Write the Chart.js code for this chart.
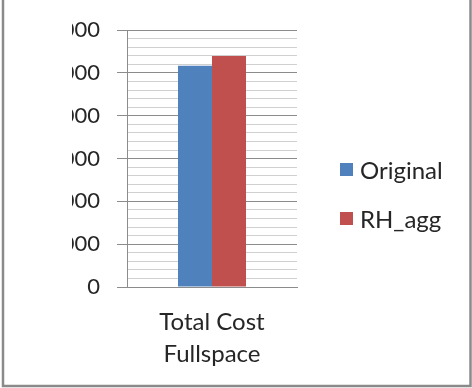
<!DOCTYPE html>
<html>
<head>
<meta charset="utf-8">
<script src="https://cdn.jsdelivr.net/npm/chart.js@4/dist/chart.umd.min.js"></script>
<style>
  html, body { margin: 0; padding: 0; background: #fff; }
  #wrap { position: relative; width: 472px; height: 388px; overflow: hidden; }
  #c { position: absolute; left: 0; top: 0; }
  #legend { position: absolute; left: 340px; top: 0; font-family: Lato, "Open Sans", sans-serif; font-size: 24px; color: #262626; }
  .item { position: absolute; left: 0; display: flex; align-items: center; white-space: nowrap; }
  .box { width: 13px; height: 13px; margin-right: 7px; }
</style>
</head>
<body>
<div id="wrap">
  <canvas id="c" width="472" height="388"></canvas>
  <div id="legend"></div>
</div>
<script>
// Cost comparison data
const categories = [['Total Cost', 'Fullspace']];
const seriesNames = ['Original', 'RH_agg'];
const originalValues = [5170];
const rhAggValues = [5400];
const seriesColors = ['#4F81BD', '#C0504D'];

const yMin = 0;
const yMax = 6000;
const minorStep = 200;
const majorStep = 1000;

const textColor = '#262626';
const majorGrid = '#8c8c8c';
const minorGrid = '#d0d0d0';

// Clip the drawing on the left and draw the outer frame
const framePlugin = {
  id: 'frame',
  beforeDraw(chart) {
    const ctx = chart.ctx;
    ctx.save();
    ctx.beginPath();
    ctx.rect(72, 0, chart.width - 72, chart.height);
    ctx.clip();
  },
  afterDraw(chart) {
    const ctx = chart.ctx;
    ctx.restore();
    ctx.save();
    ctx.strokeStyle = '#8a8a8a';
    ctx.lineWidth = 2.5;
    ctx.beginPath();
    ctx.moveTo(3, 0);
    ctx.lineTo(3, 386);
    ctx.lineTo(470.5, 386);
    ctx.lineTo(470.5, 0);
    ctx.stroke();
    ctx.restore();
  }
};

const chart = new Chart(document.getElementById('c'), {
  type: 'bar',
  data: {
    labels: categories,
    datasets: [
      { label: seriesNames[0], data: originalValues, backgroundColor: seriesColors[0] },
      { label: seriesNames[1], data: rhAggValues, backgroundColor: seriesColors[1] }
    ]
  },
  options: {
    responsive: false,
    animation: false,
    devicePixelRatio: 1,
    layout: { padding: { left: 0, top: 30, right: 175, bottom: 0 } },
    plugins: { legend: { display: false }, tooltip: { enabled: false } },
    datasets: { bar: { categoryPercentage: 0.4, barPercentage: 1.0 } },
    scales: {
      x: {
        grid: { display: false, drawTicks: false },
        border: { display: true, color: majorGrid, width: 1 },
        ticks: {
          color: textColor,
          padding: 20,
          font: { family: 'Lato', size: 24, lineHeight: 1.3 }
        },
        afterFit(s) { s.height = 101; }
      },
      y: {
        min: yMin,
        max: yMax,
        grid: {
          color: (c) => (c.tick && c.tick.value % majorStep === 0) ? majorGrid : minorGrid,
          tickColor: (c) => (c.tick && c.tick.value % majorStep === 0) ? majorGrid : 'rgba(0,0,0,0)',
          tickLength: 10,
          lineWidth: 1
        },
        border: { display: true, color: majorGrid, width: 1 },
        ticks: {
          stepSize: minorStep,
          autoSkip: false,
          color: textColor,
          padding: 17,
          font: { family: 'Lato', size: 22 },
          callback: (v) => (v % majorStep === 0) ? String(v) : ''
        },
        afterFit(s) { s.width = 127; }
      }
    }
  },
  plugins: [framePlugin]
});

// Legend built from the chart's datasets
const legendEl = document.getElementById('legend');
const legendTops = [169, 218];
chart.data.datasets.forEach((ds, i) => {
  const item = document.createElement('div');
  item.className = 'item';
  item.style.top = (legendTops[i] - 15) + 'px';
  item.style.height = '30px';
  const box = document.createElement('span');
  box.className = 'box';
  box.style.background = ds.backgroundColor;
  const label = document.createElement('span');
  label.textContent = ds.label;
  item.appendChild(box);
  item.appendChild(label);
  legendEl.appendChild(item);
});
</script>
</body>
</html>
